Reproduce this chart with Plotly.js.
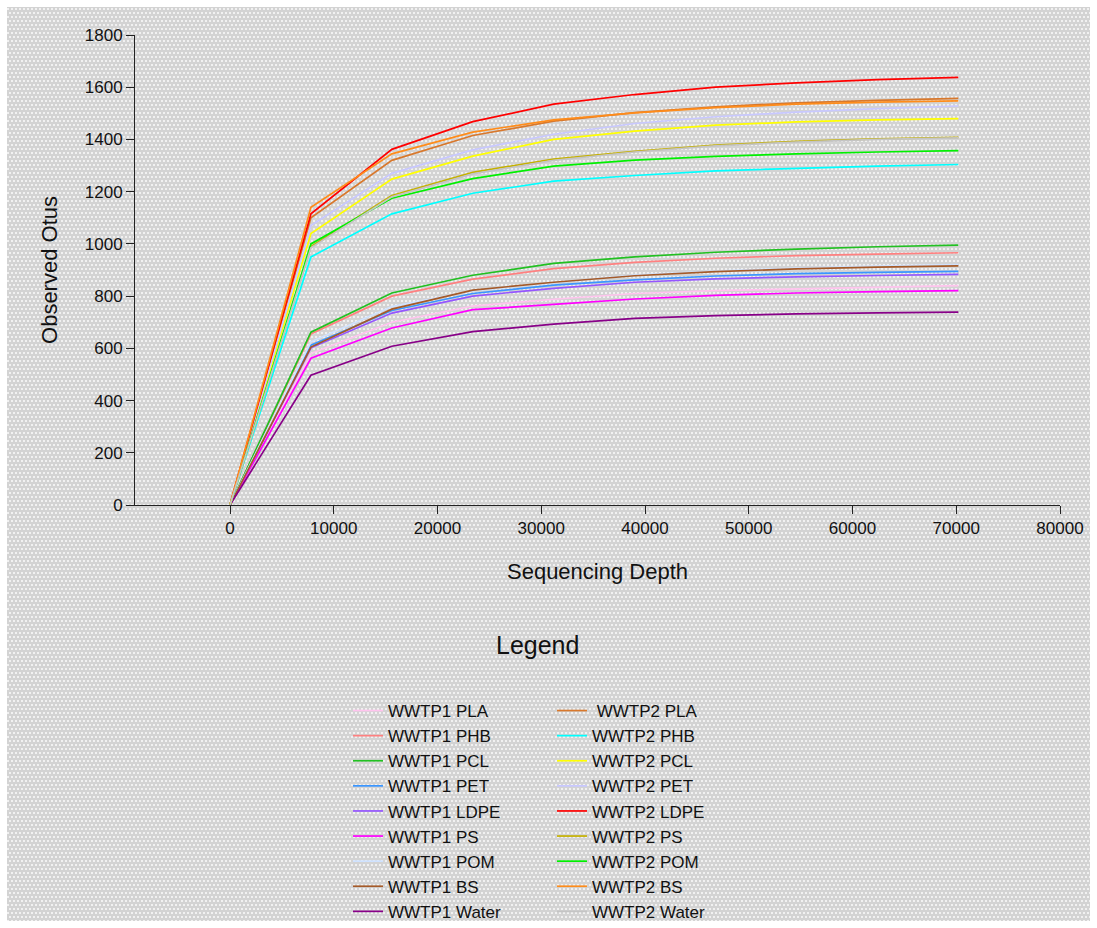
<!DOCTYPE html>
<html>
<head>
<meta charset="utf-8">
<script src="https://cdn.plot.ly/plotly-3.0.1.min.js"></script>
<style>
  html, body { margin: 0; padding: 0; background: #ffffff; }
  #bg {
    position: absolute; left: 7px; top: 7px; width: 1083px; height: 914px;
    background-color: #d3d3d3;
    background-image: url("data:image/svg+xml;utf8,<svg xmlns='http://www.w3.org/2000/svg' width='4' height='8'><rect x='0' y='1' width='2' height='2' fill='%23f1f1f1'/><rect x='2' y='5' width='2' height='2' fill='%23f1f1f1'/></svg>");
    background-size: 4px 8px;
  }
  #chart { position: absolute; left: 0; top: 0; width: 1097px; height: 928px; }
</style>
</head>
<body>
<div id="bg"></div>
<div id="chart"></div>
<script>
// Sequencing depth (x values)
const depth = [0, 7800, 15600, 23400, 31200, 39000, 46800, 54600, 62400, 70200];

// WWTP1 series
const w1PLA   = [0, 580, 700, 762, 788, 810, 821, 828, 834, 840];
const w1PHB   = [0, 655, 800, 865, 905, 929, 945, 955, 961, 966];
const w1PCL   = [0, 662, 812, 880, 925, 950, 968, 980, 989, 995];
const w1PET   = [0, 612, 745, 810, 842, 862, 877, 886, 891, 895];
const w1LDPE  = [0, 602, 735, 800, 830, 853, 866, 874, 879, 883];
const w1PS    = [0, 562, 678, 748, 768, 789, 803, 812, 817, 821];
const w1POM   = [0, 625, 760, 820, 852, 880, 896, 907, 915, 921];
const w1BS    = [0, 605, 750, 823, 853, 878, 894, 904, 911, 916];
const w1Water = [0, 497, 608, 664, 693, 715, 725, 732, 736, 739];

// WWTP2 series
const w2PLA   = [0, 1100, 1320, 1415, 1470, 1503, 1525, 1540, 1550, 1557];
const w2PHB   = [0, 950, 1115, 1194, 1240, 1262, 1280, 1290, 1298, 1304];
const w2PCL   = [0, 1040, 1248, 1336, 1400, 1432, 1455, 1467, 1475, 1480];
const w2PET   = [0, 1070, 1270, 1360, 1420, 1461, 1487, 1505, 1518, 1528];
const w2LDPE  = [0, 1115, 1362, 1468, 1535, 1572, 1600, 1617, 1629, 1638];
const w2PS    = [0, 990, 1185, 1274, 1325, 1354, 1378, 1393, 1402, 1408];
const w2POM   = [0, 1000, 1175, 1250, 1298, 1321, 1335, 1345, 1352, 1357];
const w2BS    = [0, 1140, 1345, 1428, 1475, 1502, 1522, 1535, 1543, 1548];
const w2Water = [0, 985, 1180, 1268, 1320, 1352, 1375, 1390, 1400, 1406];

const names1 = ['WWTP1 PLA','WWTP1 PHB','WWTP1 PCL','WWTP1 PET','WWTP1 LDPE','WWTP1 PS','WWTP1 POM','WWTP1 BS','WWTP1 Water'];
const names2 = [' WWTP2 PLA','WWTP2 PHB','WWTP2 PCL','WWTP2 PET','WWTP2 LDPE','WWTP2 PS','WWTP2 POM','WWTP2 BS','WWTP2 Water'];
const values1 = [w1PLA, w1PHB, w1PCL, w1PET, w1LDPE, w1PS, w1POM, w1BS, w1Water];
const values2 = [w2PLA, w2PHB, w2PCL, w2PET, w2LDPE, w2PS, w2POM, w2BS, w2Water];
const colors1 = ['#FFC4EE','#FF8080','#22C022','#3A96FF','#9555FF','#FF00FF','#CFE2FF','#A55A28','#880088'];
const colors2 = ['#D8782C','#00FFFF','#FFFF00','#C8C8FF','#FF0000','#C4B000','#00F000','#FF8C1A','#C4C4C4'];

const traces = [];
for (let i = 0; i < names1.length; i++) {
  traces.push({x: depth, y: values1[i], name: names1[i], type: 'scatter', mode: 'lines',
    line: {color: colors1[i], width: 1.7}, legend: 'legend'});
}
for (let i = 0; i < names2.length; i++) {
  traces.push({x: depth, y: values2[i], name: names2[i], type: 'scatter', mode: 'lines',
    line: {color: colors2[i], width: 1.7}, legend: 'legend2'});
}

const font = 'Liberation Sans, Arial, sans-serif';
const legendCommon = {
  bgcolor: 'rgba(0,0,0,0)', font: {family: font, size: 17, color: '#111'},
  orientation: 'v', xanchor: 'left', yanchor: 'top', tracegroupgap: 0,
  traceorder: 'normal'
};

const layout = {
  width: 1097, height: 928,
  margin: {l: 135, r: 37, t: 35, b: 423, autoexpand: false},
  paper_bgcolor: 'rgba(0,0,0,0)', plot_bgcolor: 'rgba(0,0,0,0)',
  font: {family: font, color: '#111'},
  showlegend: true,
  xaxis: {
    range: [-9157, 80000], tickvals: [0,10000,20000,30000,40000,50000,60000,70000,80000],
    tickformat: 'd', showgrid: false, zeroline: false, showline: true, linecolor: '#222', linewidth: 1,
    ticks: 'outside', ticklen: 8, tickcolor: '#222', tickfont: {family: font, size: 17, color: '#111'},
    title: {text: 'Sequencing Depth', font: {family: font, size: 22, color: '#111'}, standoff: 26},
    automargin: false
  },
  yaxis: {
    range: [0, 1800], dtick: 200, tickformat: 'd', showgrid: false, zeroline: false,
    showline: true, linecolor: '#222', linewidth: 1,
    ticks: 'outside', ticklen: 8, tickcolor: '#222', tickfont: {family: font, size: 17, color: '#111'},
    title: {text: 'Observed Otus', font: {family: font, size: 22, color: '#111'}, standoff: 21},
    automargin: false
  },
  legend: Object.assign({}, legendCommon, {x: (348 - 135) / 925, y: (505 - 693) / 470}),
  legend2: Object.assign({}, legendCommon, {x: (552 - 135) / 925, y: (505 - 693) / 470}),
  annotations: [{
    text: 'Legend', xref: 'paper', yref: 'paper', x: (537 - 135) / 925, y: (505 - 645) / 470,
    xanchor: 'center', yanchor: 'middle', showarrow: false,
    font: {family: font, size: 25, color: '#111'}
  }]
};

Plotly.newPlot('chart', traces, layout, {displayModeBar: false, responsive: false});
</script>
</body>
</html>
